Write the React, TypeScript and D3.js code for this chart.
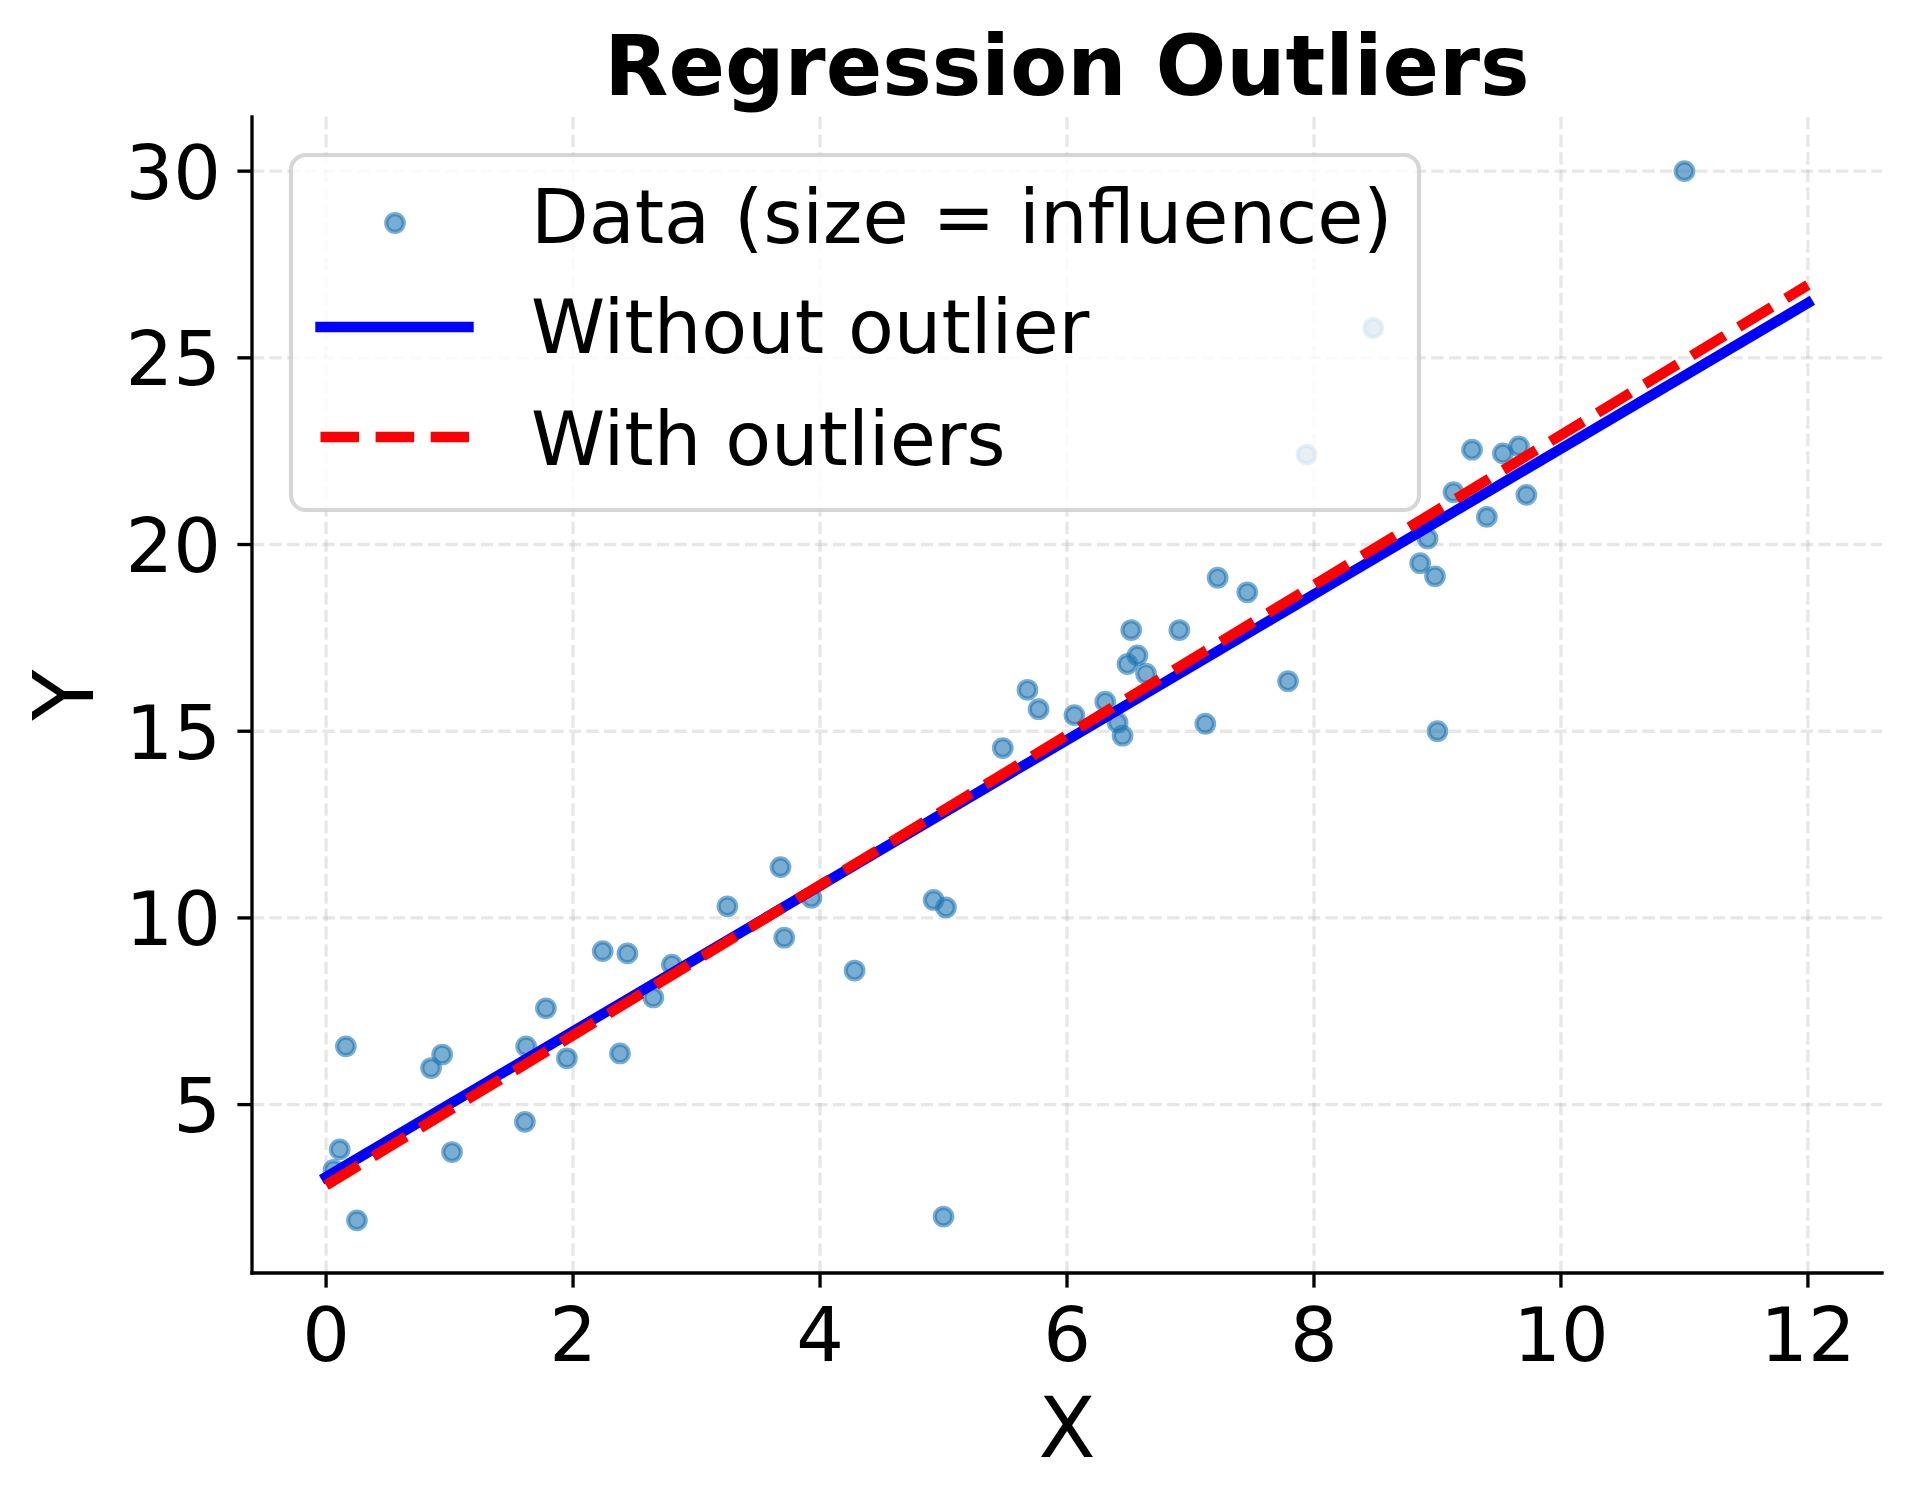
import * as React from "react";
import * as d3 from "d3";

// scatter data
const xValues = [
  0.06, 0.11, 0.16, 0.25, 0.85, 0.94, 1.02, 1.61, 1.62, 1.78, 1.95, 2.24, 2.38,
  2.44, 2.65, 2.8, 3.25, 3.68, 3.71, 3.93, 4.28, 4.92, 5.02, 5.0, 5.48, 5.68,
  5.77, 6.06, 6.31, 6.41, 6.45, 6.49, 6.52, 6.57, 6.64, 6.91, 7.12, 7.22, 7.46,
  7.79, 7.94, 8.48, 8.86, 8.92, 8.98, 9.0, 9.13, 9.28, 9.4, 9.53, 9.66, 9.72,
  11.0,
];
const yValues = [
  3.25, 3.8, 6.56, 1.9, 5.98, 6.34, 3.73, 4.54, 6.56, 7.58, 6.24, 9.11, 6.37,
  9.05, 7.87, 8.75, 10.31, 11.36, 9.47, 10.54, 8.59, 10.48, 10.28, 2.0, 14.55,
  16.11, 15.59, 15.43, 15.79, 15.23, 14.88, 16.8, 17.71, 17.03, 16.54, 17.71,
  15.2, 19.11, 18.72, 16.34, 22.41, 25.8, 19.5, 20.16, 19.15, 15.0, 21.4, 22.54,
  20.74, 22.44, 22.63, 21.33, 30.0,
];

// regression lines, evaluated at the ends of the x range
const fitX = [0, 12];
const fitWithout = [3.06, 26.47];
const fitWith = [2.84, 26.95];

const xTicks = [0, 2, 4, 6, 8, 10, 12];
const yTicks = [5, 10, 15, 20, 25, 30];

const legendLabels = ["Data (size = influence)", "Without outlier", "With outliers"];

const W = 1909;
const H = 1503;
const MARGIN = { top: 117, right: 27, bottom: 230, left: 252 };
const FONT = "'DejaVu Sans', sans-serif";
const BLUE = "#1f77b4";
const LW = 10.4; // 2.5pt
const GRID_W = 3.33;

export default function App() {
  const innerW = W - MARGIN.left - MARGIN.right;
  const innerH = H - MARGIN.top - MARGIN.bottom;

  const x = d3.scaleLinear().domain([-0.6, 12.6]).range([0, innerW]);
  const y = d3.scaleLinear().domain([0.49, 31.45]).range([innerH, 0]);

  const line = d3
    .line<number>()
    .x((_, i) => x(fitX[i]))
    .y((d) => y(d));

  const points = xValues.map((xv, i) => ({ x: xv, y: yValues[i] }));

  // legend box in figure pixels
  const lg = { x: 291, y: 155, w: 1128, h: 355 };

  return (
    <svg
      width={W}
      height={H}
      style={{ position: "absolute", left: 0, top: 0, background: "#fff" }}
      fontFamily={FONT}
    >
      <rect width={W} height={H} fill="#fff" />

      <text
        x={MARGIN.left + innerW / 2}
        y={95}
        textAnchor="middle"
        fontSize={83.3}
        fontWeight="bold"
      >
        Regression Outliers
      </text>

      <g transform={`translate(${MARGIN.left},${MARGIN.top})`}>
        {/* grid */}
        {xTicks.map((t) => (
          <line
            key={`gx-${t}`}
            x1={x(t)}
            x2={x(t)}
            y1={0}
            y2={innerH}
            stroke="#b0b0b0"
            strokeOpacity={0.3}
            strokeWidth={GRID_W}
            strokeDasharray="12.3 5.3"
          />
        ))}
        {yTicks.map((t) => (
          <line
            key={`gy-${t}`}
            x1={0}
            x2={innerW}
            y1={y(t)}
            y2={y(t)}
            stroke="#b0b0b0"
            strokeOpacity={0.3}
            strokeWidth={GRID_W}
            strokeDasharray="12.3 5.3"
          />
        ))}

        {/* scatter */}
        {points.map((p, i) => (
          <circle
            key={i}
            cx={x(p.x)}
            cy={y(p.y)}
            r={8.8}
            fill={BLUE}
            fillOpacity={0.6}
            stroke={BLUE}
            strokeOpacity={0.6}
            strokeWidth={4.17}
          />
        ))}

        {/* fits */}
        <path
          d={line(fitWithout) ?? ""}
          fill="none"
          stroke="#0000ff"
          strokeWidth={LW}
          strokeLinecap="square"
        />
        <path
          d={line(fitWith) ?? ""}
          fill="none"
          stroke="#ff0000"
          strokeWidth={LW}
          strokeDasharray="38.5 16.6"
        />

        {/* spines */}
        <line x1={0} x2={0} y1={0} y2={innerH} stroke="#000" strokeWidth={3.33} strokeLinecap="square" />
        <line x1={0} x2={innerW} y1={innerH} y2={innerH} stroke="#000" strokeWidth={3.33} strokeLinecap="square" />

        {/* x ticks */}
        {xTicks.map((t) => (
          <g key={`xt-${t}`}>
            <line x1={x(t)} x2={x(t)} y1={innerH} y2={innerH + 14.6} stroke="#000" strokeWidth={3.33} />
            <text x={x(t)} y={innerH + 88} textAnchor="middle" fontSize={75}>
              {t}
            </text>
          </g>
        ))}

        {/* y ticks */}
        {yTicks.map((t) => (
          <g key={`yt-${t}`}>
            <line x1={-14.6} x2={0} y1={y(t)} y2={y(t)} stroke="#000" strokeWidth={3.33} />
            <text x={-31} y={y(t) + 27.5} textAnchor="end" fontSize={75}>
              {t}
            </text>
          </g>
        ))}
      </g>

      {/* axis labels */}
      <text x={MARGIN.left + innerW / 2} y={1457} textAnchor="middle" fontSize={83.3}>
        X
      </text>
      <text
        transform={`translate(93,${MARGIN.top + innerH / 2}) rotate(-90)`}
        textAnchor="middle"
        fontSize={83.3}
      >
        Y
      </text>

      {/* legend */}
      <g>
        <rect
          x={lg.x}
          y={lg.y}
          width={lg.w}
          height={lg.h}
          rx={15}
          fill="#fff"
          fillOpacity={0.8}
          stroke="#cccccc"
          strokeOpacity={0.8}
          strokeWidth={4.17}
        />
        <circle
          cx={395}
          cy={223}
          r={8.8}
          fill={BLUE}
          fillOpacity={0.6}
          stroke={BLUE}
          strokeOpacity={0.6}
          strokeWidth={4.17}
        />
        <line x1={320.5} x2={468.5} y1={327} y2={327} stroke="#0000ff" strokeWidth={LW} strokeLinecap="square" />
        <line x1={320.5} x2={469} y1={437} y2={437} stroke="#ff0000" strokeWidth={LW} strokeDasharray="38.5 16.6" />
        {legendLabels.map((label, i) => (
          <text key={label} x={531} y={[243, 353, 465][i]} fontSize={75}>
            {label}
          </text>
        ))}
      </g>
    </svg>
  );
}
